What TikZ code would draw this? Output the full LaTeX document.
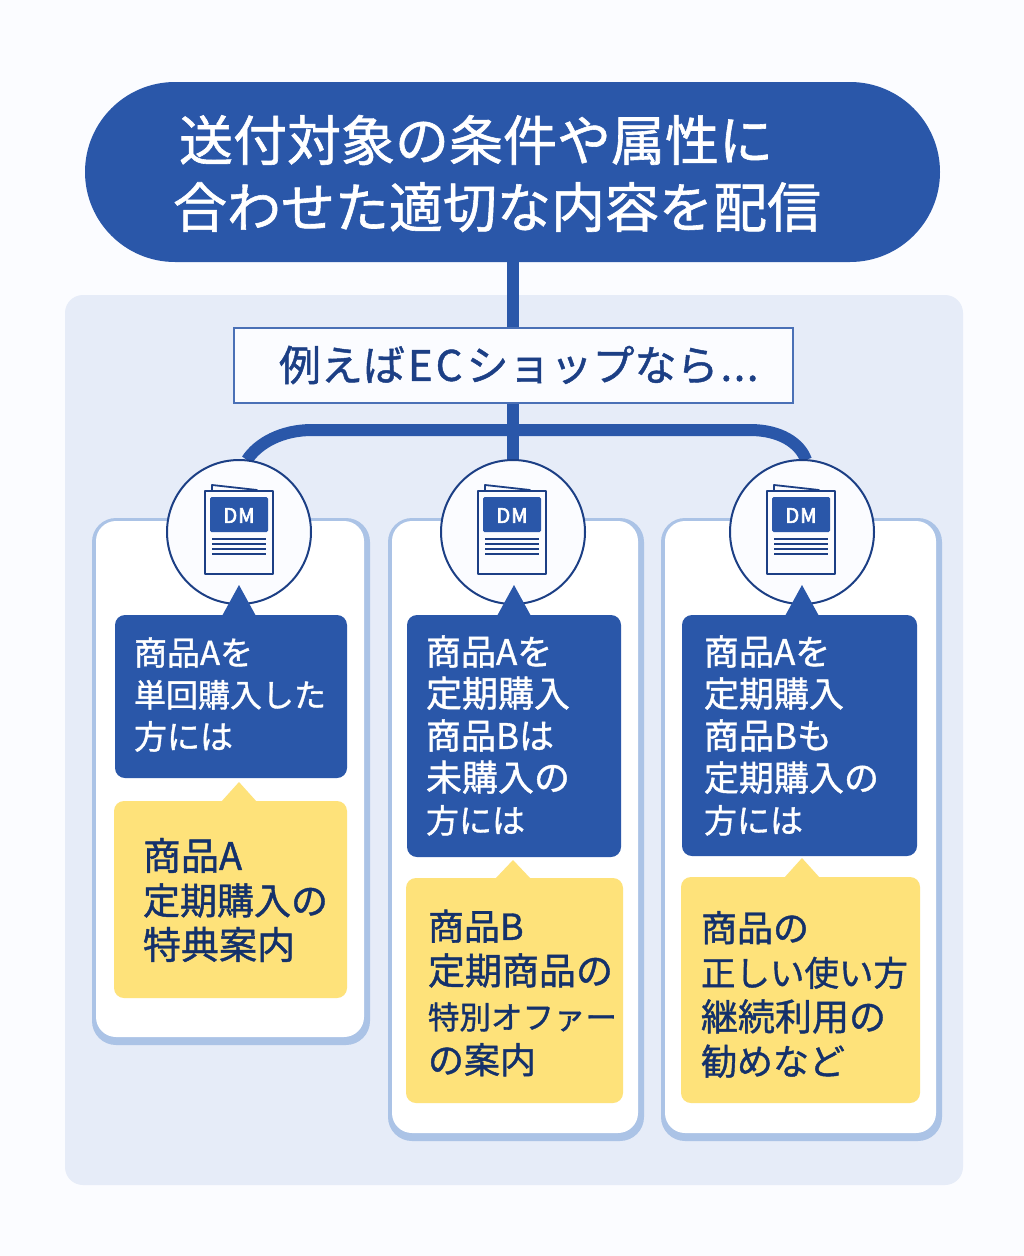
\documentclass[tikz,border=0pt]{standalone}
\usepackage{fontspec}
\setmainfont[FakeBold=1.1]{Noto Sans CJK JP}
\newfontfamily\dmfont[FakeBold=3]{Noto Sans CJK JP}
\definecolor{pagebg}{HTML}{FBFCFF}
\definecolor{panel}{HTML}{E6ECF8}
\definecolor{mainblue}{HTML}{2A57A9}
\definecolor{navy}{HTML}{1C3F85}
\definecolor{inkdark}{HTML}{14316B}
\definecolor{cardedge}{HTML}{ABC3E6}
\definecolor{note}{HTML}{FEE27A}
\newcommand{\LL}[2]{{\fontsize{#1}{42}\selectfont #2}}
\tikzset{
  x=1pt,y=-1pt,
  every node/.style={inner sep=0pt,outer sep=0pt},
  conn/.style={draw=mainblue,line width=12pt},
  pill/.style={fill=mainblue,rounded corners=90pt,minimum width=855pt,minimum height=180pt},
  panelbox/.style={fill=panel,rounded corners=18pt,minimum width=898pt,minimum height=890pt},
  exbox/.style={draw=mainblue!85,fill=pagebg,line width=2.5pt,minimum width=559pt,minimum height=75pt},
  cardout/.style={fill=cardedge,rounded corners=24pt},
  cardin/.style={fill=white,rounded corners=20pt},
  bluebox/.style={fill=mainblue,rounded corners=10pt},
  notebox/.style={fill=note,rounded corners=10pt},
  iconcircle/.style={circle,draw=navy,fill=pagebg,line width=2pt,minimum size=144pt},
  headtext/.style={anchor=west,align=left,text=white,font=\fontsize{54}{67}\selectfont},
  bluetext/.style={anchor=west,align=left,text=white,font=\fontsize{35}{42}\selectfont},
  notetext/.style={anchor=west,align=left,text=inkdark,font=\fontsize{36}{44.5}\selectfont},
  pics/dmicon/.style={code={
    \draw[navy,line width=1.8pt,fill=pagebg,line join=round] (-27,-40) -- (-27,-47) -- (18,-42) -- (18,-36) -- cycle;
    \draw[navy,line width=2pt,fill=pagebg,line join=round] (-34,-41) rectangle (34,42);
    \fill[mainblue,rounded corners=1.5pt] (-29,-35) rectangle (29,0);
    \node[text=white,font=\dmfont\fontsize{20}{20}\selectfont] (-label) at (0,-16.5) {D\kern1pt M};
    \foreach \yy in {7,12,17,22} \draw[navy,line width=1.6pt] (-27,\yy) -- (27,\yy);
  }}
}
\begin{document}
\begin{tikzpicture}
\useasboundingbox (0,0) rectangle (1024,1256);
\fill[pagebg] (0,0) rectangle (1024,1256);
\node[panelbox] (panel) at (514,740) {};
\node[pill] (header) at (512.5,172) {};
\node[headtext] (headlabel) at (173,173.5) {\hspace*{6pt}送付対象の条件や属性に\\合わせた適切な内容を配信};

% cards
\node[cardout,minimum width=278pt,minimum height=527pt] (card1) at (231,781.5) {};
\node[cardin,minimum width=268pt,minimum height=516pt] (card1in) at (230,779) {};
\node[cardout,minimum width=256pt,minimum height=623pt] (card2) at (516,829.5) {};
\node[cardin,minimum width=246pt,minimum height=612pt] (card2in) at (515,827) {};
\node[cardout,minimum width=281pt,minimum height=623pt] (card3) at (801.5,829.5) {};
\node[cardin,minimum width=271pt,minimum height=612pt] (card3in) at (800.5,827) {};

% connectors, then circles and example box above them
\coordinate (c1p) at (239,532);
\coordinate (c2p) at (513,532);
\coordinate (c3p) at (802,532);
\coordinate (jl) at (312,430);
\coordinate (jr) at (750,430);
\draw[conn] (header.south -| c2p) -- (c2p);
\draw[conn] (c1p) ++(8,-72) .. controls (258,443) and (282,430) .. (jl) -- (jr) .. controls (780,430) and (800,443) .. (806,460);
\node[iconcircle] (c1) at (c1p) {};
\node[iconcircle] (c2) at (c2p) {};
\node[iconcircle] (c3) at (c3p) {};
\node[exbox] (ex) at (513.5,365.5) {};
\node[anchor=west,text=navy,font=\fontsize{42}{42}\selectfont] (exlabel) at (279,365) {例えば\kern3pt E\kern3pt C\kern4pt ショップなら\kern2pt .\kern1.5pt .\kern1.5pt .};

\pic (i1) at (239,532) {dmicon};
\pic (i2) at (512,532) {dmicon};
\pic (i3) at (801,532) {dmicon};

% blue boxes
\fill[mainblue] (222,616) -- (239,585) -- (256,616) -- cycle;
\fill[mainblue] (497,616) -- (514,585) -- (531,616) -- cycle;
\fill[mainblue] (785,616) -- (802,585) -- (819,616) -- cycle;
\node[bluebox,minimum width=232pt,minimum height=163pt] (b1) at (231,696.5) {};
\node[bluebox,minimum width=214pt,minimum height=242pt] (b2) at (514,736) {};
\node[bluebox,minimum width=235pt,minimum height=241pt] (b3) at (799.5,735.5) {};
\node[bluetext] (b1label) at (134,694.5) {\LL{33}{商品Aを}\\\LL{32}{単回購入した}\\\LL{33}{方には}};
\node[bluetext] (b2label) at (426,735.5) {\LL{35}{商品Aを}\\\LL{36}{定期購入}\\\LL{35}{商品Bは}\\\LL{36}{未購入の}\\\LL{33}{方には}};
\node[bluetext] (b3label) at (704,735.5) {\LL{35}{商品Aを}\\\LL{35}{定期購入}\\\LL{35}{商品Bも}\\\LL{35}{定期購入の}\\\LL{33}{方には}};

% notes
\fill[note] (221,802) -- (239,782) -- (257,802) -- cycle;
\fill[note] (495,879) -- (513,860) -- (531,879) -- cycle;
\fill[note] (784,878) -- (802,858) -- (820,878) -- cycle;
\node[notebox,minimum width=233pt,minimum height=197pt] (n1) at (230.5,899.5) {};
\node[notebox,minimum width=217pt,minimum height=225pt] (n2) at (514.5,990.5) {};
\node[notebox,minimum width=239pt,minimum height=226pt] (n3) at (800.5,990) {};
\node[notetext] (n1label) at (143,900) {\LL{38}{商品A}\\\LL{37}{定期購入の}\\\LL{38}{特典案内}};
\node[notetext] (n2label) at (428,993) {\LL{36}{商品B}\\\LL{37}{定期商品の}\\\LL{31.5}{特別オファー}\\\LL{36}{の案内}};
\node[notetext] (n3label) at (701,994.5) {\LL{36}{商品の}\\\LL{34.5}{正しい使い方}\\\LL{37}{継続利用の}\\\LL{36}{勧めなど}};
\end{tikzpicture}
\end{document}
